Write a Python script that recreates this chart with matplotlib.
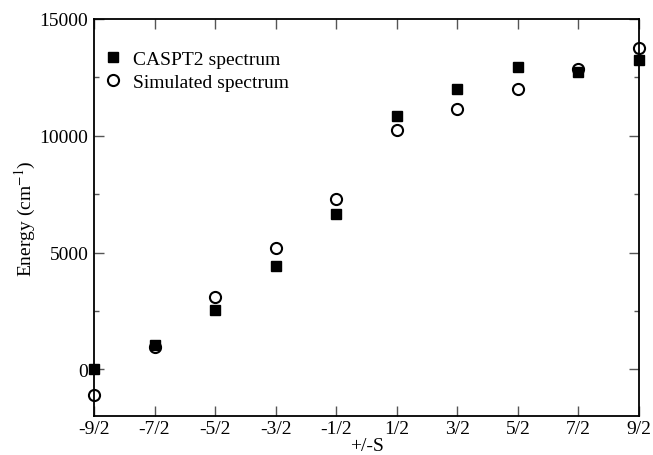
import numpy as np
import matplotlib
matplotlib.use("Agg")
import matplotlib.pyplot as plt
from matplotlib.ticker import MultipleLocator

plt.rcParams['font.family'] = ['Liberation Serif', 'DejaVu Serif']
plt.rcParams['mathtext.fontset'] = 'stix'

# data
tick_labels = ["-9/2", "-7/2", "-5/2", "-3/2", "-1/2", "1/2", "3/2", "5/2", "7/2", "9/2"]
caspt2 = [0, 1040, 2550, 4410, 6640, 10840, 11990, 12930, 12720, 13240]
simulated = [-1110, 970, 3080, 5180, 7280, 10240, 11140, 11990, 12850, 13750]

x = np.arange(len(tick_labels))

fig = plt.figure(figsize=(6.53, 4.56), dpi=100)
ax = fig.add_axes([94 / 653, 39 / 456, 545 / 653, 397 / 456])

ax.plot(x, caspt2, ls="none", marker="s", ms=6.5, mfc="black", mec="black",
        label="CASPT2 spectrum", clip_on=False, zorder=3)
ax.plot(x, simulated, ls="none", marker="o", ms=8, mfc="none", mec="black",
        mew=1.5, label="Simulated spectrum", clip_on=False, zorder=3)

ax.set_xlim(0, 9)
ax.set_ylim(-2000, 15000)
ax.set_xticks(x)
ax.set_xticklabels(tick_labels)
ax.set_yticks([0, 5000, 10000, 15000])
ax.yaxis.set_minor_locator(MultipleLocator(2500))

ax.tick_params(which="both", direction="in", top=True, right=True,
               labelsize=14, color="#555555")
ax.tick_params(which="major", length=7, width=1)
ax.tick_params(which="minor", length=3.5, width=1)
ax.tick_params(axis="x", pad=3)
ax.tick_params(axis="y", pad=4)
for s in ax.spines.values():
    s.set_linewidth(1.3)

ax.set_xlabel("+/-S", fontsize=14, labelpad=0)
ax.set_ylabel("Energy (cm$^{-1}$)", fontsize=14, labelpad=1)

ax.legend(loc="upper left", bbox_to_anchor=(0.003, 0.94), frameon=False,
          fontsize=14, handletextpad=0.5, borderaxespad=0, labelspacing=0.25,
          handlelength=1.0)

fig.savefig("out.png", dpi=100)
